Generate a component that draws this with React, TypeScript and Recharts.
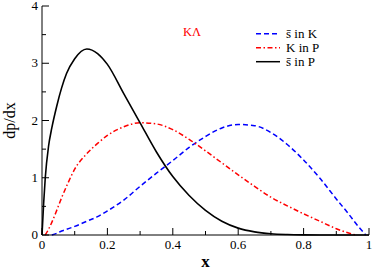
import { LineChart, Line, XAxis, YAxis, Legend } from 'recharts';

const SERIF = 'Liberation Serif';

const xValues = [
  0, 0.005, 0.01, 0.02, 0.03, 0.045, 0.06, 0.075, 0.1, 0.137, 0.17, 0.2, 0.25, 0.3, 0.35, 0.4,
  0.45, 0.5, 0.55, 0.6, 0.65, 0.7, 0.75, 0.8, 0.85, 0.9, 0.94, 0.96, 0.99, 1,
];
// s-bar in P (solid black)
const sbarInP = [
  0, 0.55, 1.0, 1.55, 1.87, 2.25, 2.57, 2.82, 3.08, 3.25, 3.17, 2.98, 2.47, 1.96, 1.45, 1.02,
  0.69, 0.43, 0.24, 0.12, 0.055, 0.022, 0.008, 0.002, 0, 0, 0, 0, 0, 0,
];
// K in P (red dash-dot)
const kInP = [
  null, null, 0, 0.1, 0.22, 0.43, 0.65, 0.85, 1.15, 1.42, 1.6, 1.74, 1.89, 1.96, 1.94, 1.84,
  1.67, 1.47, 1.26, 1.05, 0.85, 0.66, 0.51, 0.37, 0.24, 0.11, 0.03, 0, null, null,
];
// s-bar in K (blue dashed)
const sbarInK = [
  null, null, null, null, 0, 0.03, 0.07, 0.1, 0.15, 0.24, 0.32, 0.42, 0.61, 0.85, 1.08, 1.3,
  1.53, 1.72, 1.87, 1.93, 1.91, 1.79, 1.58, 1.31, 0.99, 0.63, 0.35, 0.2, 0, null,
];

const xTicks = [0, 0.1, 0.2, 0.3, 0.4, 0.5, 0.6, 0.7, 0.8, 0.9, 1];
const xLabels = ['0', '', '0.2', '', '0.4', '', '0.6', '', '0.8', '', '1'];
const yTicks = [0, 0.5, 1, 1.5, 2, 2.5, 3, 3.5, 4];
const yLabels = ['0', '', '1', '', '2', '', '3', '', '4'];

const data = xValues.map((x, i) => ({
  x,
  sK: sbarInK[i],
  kP: kInP[i],
  sP: sbarInP[i],
}));

const MAJOR = 7;
const MINOR = 4;

function BottomTick(props: any) {
  const { x, y, index } = props;
  const label = xLabels[index];
  return (
    <g>
      <line x1={x} x2={x} y1={y} y2={y - (label ? MAJOR : MINOR)} stroke="#000" />
      {label && (
        <text x={x} y={y + 13.5} textAnchor="middle" fontFamily={SERIF} fontSize={13} fill="#000">
          {label}
        </text>
      )}
    </g>
  );
}

function TopTick(props: any) {
  const { x, y, index } = props;
  return <line x1={x} x2={x} y1={y} y2={y + (xLabels[index] ? MAJOR : MINOR)} stroke="#000" />;
}

function LeftTick(props: any) {
  const { x, y, index } = props;
  const label = yLabels[index];
  return (
    <g>
      <line x1={x} x2={x + (label ? MAJOR : MINOR)} y1={y} y2={y} stroke="#000" />
      {label && (
        <text x={x - 4} y={y + 4} textAnchor="end" fontFamily={SERIF} fontSize={13} fill="#000">
          {label}
        </text>
      )}
    </g>
  );
}

function RightTick(props: any) {
  const { x, y, index } = props;
  return <line x1={x} x2={x - (yLabels[index] ? MAJOR : MINOR)} y1={y} y2={y} stroke="#000" />;
}

const legendRows = [
  { name: 's\u0304 in K', color: '#0000ff', dash: '5 3' },
  { name: 'K in P', color: '#ff0000', dash: '5 2.5 1.5 2.5' },
  { name: 's\u0304 in P', color: '#000000', dash: undefined },
];

function LegendBox() {
  return (
    <svg width={190} height={50} style={{ display: 'block' }}>
      <text x={8} y={16} fontFamily={SERIF} fontSize={12.5} fill="#ff0000">
        KΛ
      </text>
      {legendRows.map((r, i) => (
        <g key={r.name}>
          <line
            x1={81}
            x2={105}
            y1={13.7 + i * 14}
            y2={13.7 + i * 14}
            stroke={r.color}
            strokeWidth={1.5}
            strokeDasharray={r.dash}
          />
          <text x={111} y={18 + i * 14} fontFamily={SERIF} fontSize={13} fill="#000">
            {r.name}
          </text>
        </g>
      ))}
    </svg>
  );
}

export default function App() {
  return (
    <div style={{ position: 'absolute', left: 0, top: 0, background: '#fff', fontFamily: SERIF }}>
      <LineChart
        width={374}
        height={270}
        data={data}
        margin={{ top: 6, right: 5, left: 0, bottom: 0 }}
      >
        <XAxis
          dataKey="x"
          type="number"
          domain={[0, 1]}
          ticks={xTicks}
          interval={0}
          height={35}
          tickSize={0}
          tickMargin={0}
          tickLine={false}
          tick={BottomTick}
          axisLine={{ stroke: '#000' }}
          label={{
            value: 'x',
            position: 'insideBottom',
            offset: 3,
            fontFamily: SERIF,
            fontSize: 17,
            fontWeight: 'bold',
            fill: '#000',
          }}
        />
        <XAxis
          xAxisId="top"
          dataKey="x"
          type="number"
          orientation="top"
          domain={[0, 1]}
          ticks={xTicks}
          interval={0}
          height={0}
          tickSize={0}
          tickMargin={0}
          tickLine={false}
          tick={TopTick}
          axisLine={{ stroke: '#000' }}
        />
        <YAxis
          type="number"
          domain={[0, 4]}
          ticks={yTicks}
          interval={0}
          width={42}
          tickSize={0}
          tickMargin={0}
          tickLine={false}
          tick={LeftTick}
          axisLine={{ stroke: '#000' }}
          label={{
            value: 'dp/dx',
            angle: -90,
            position: 'center',
            dx: -12,
            fontFamily: SERIF,
            fontSize: 16,
            fill: '#000',
            textAnchor: 'middle',
          }}
        />
        <YAxis
          yAxisId="right"
          type="number"
          orientation="right"
          domain={[0, 4]}
          ticks={yTicks}
          interval={0}
          width={0}
          tickSize={0}
          tickMargin={0}
          tickLine={false}
          tick={RightTick}
          axisLine={{ stroke: '#000' }}
        />
        <Legend
          layout="vertical"
          align="center"
          verticalAlign="middle"
          wrapperStyle={{ top: 20, left: 175, width: 190, height: 50 }}
          content={() => <LegendBox />}
        />
        <Line
          dataKey="sK"
          type="monotone"
          stroke="#0000ff"
          strokeWidth={1.5}
          strokeDasharray="5 3"
          dot={false}
          isAnimationActive={false}
        />
        <Line
          dataKey="kP"
          type="monotone"
          stroke="#ff0000"
          strokeWidth={1.5}
          strokeDasharray="5 2.5 1.5 2.5"
          dot={false}
          isAnimationActive={false}
        />
        <Line
          dataKey="sP"
          type="monotone"
          stroke="#000000"
          strokeWidth={1.6}
          dot={false}
          isAnimationActive={false}
        />
      </LineChart>
    </div>
  );
}
